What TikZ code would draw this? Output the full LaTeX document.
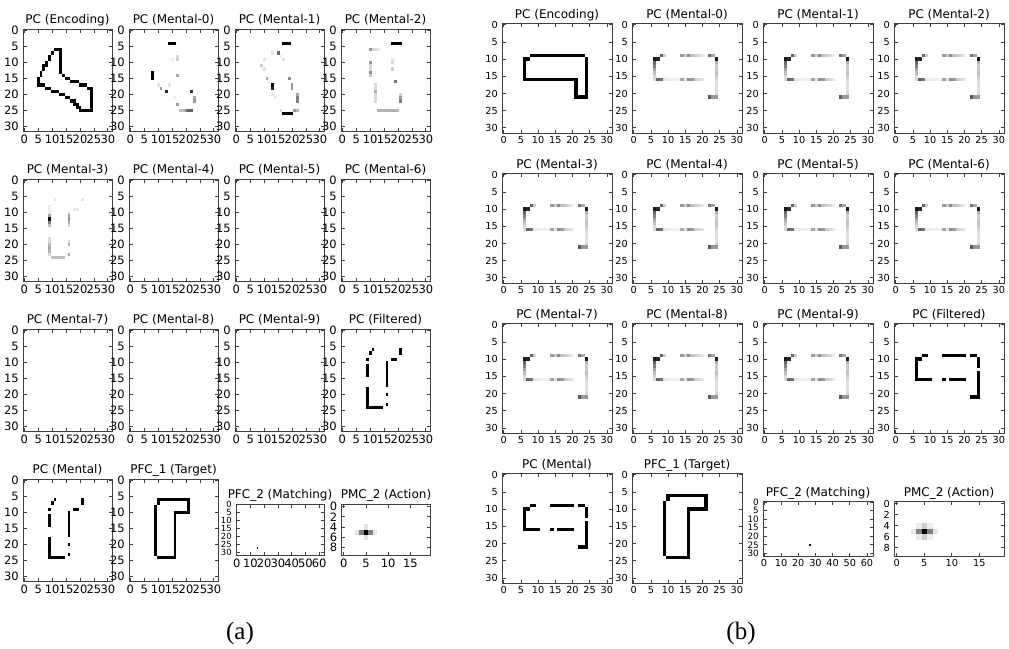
\documentclass[tikz,border=0pt]{standalone}
\usepackage{fontspec}
\setmainfont{DejaVu Sans}
\newfontfamily\capfont{Liberation Serif}

% ---- axes helpers (all lengths in px-like points, y grows downward) ----
\newcommand\setaxes[7]{\def\axN{#1}\def\axL{#2}\def\axT{#3}\def\axW{#4}\def\axH{#5}\def\axNX{#6}\def\axNY{#7}}
\newcommand\axtitle[1]{\node[axtitlestyle] (\axN-title) at ({\axL+\axW/2},{\axT-\titlesep}) {#1};}
\newcommand\drawaxes[8]{\setaxes{#1}{#2}{#3}{#4}{#5}{#6}{#7}\axtitle{#8}}
\newcommand\axframe[2]{%
  \draw[framestyle] (\axL,\axT) rectangle ({\axL+\axW},{\axT+\axH});
  \foreach \tk in {#1}{%
    \pgfmathsetmacro\tkpos{\axL+(\tk+0.5)*\axW/\axNX}%
    \draw[tickstyle] (\tkpos,\axT) -- (\tkpos,{\axT+3.5});
    \draw[tickstyle] (\tkpos,{\axT+\axH}) -- (\tkpos,{\axT+\axH-3.5});
    \node[xlab] (\axN-x\tk) at (\tkpos,{\axT+\axH+3.5}) {\tk};
  }%
  \foreach \tk in {#2}{%
    \pgfmathsetmacro\tkpos{\axT+(\tk+0.5)*\axH/\axNY}%
    \draw[tickstyle] (\axL,\tkpos) -- ({\axL+3.5},\tkpos);
    \draw[tickstyle] ({\axL+\axW},\tkpos) -- ({\axL+\axW-3.5},\tkpos);
    \node[ylab] (\axN-y\tk) at ({\axL-4},\tkpos) {\tk};
  }%
}
\newcommand\cellsopen{\pgfmathsetmacro\cw{\axW/\axNX}\pgfmathsetmacro\ch{\axH/\axNY}%
  \begin{scope}[shift={(\axL,\axT)},x=\cw pt,y=-\ch pt]}
\newcommand\cellsclose{\end{scope}}
% square 32x32 image axes
\newcommand\sq[5]{\drawaxes{#1}{#2}{#3}{\PW}{\PH}{32}{32}{#4}%
  \cellsopen #5\cellsclose
  \axframe{0,5,...,30}{0,5,...,30}}

% ---- image cells: column, row in data units ----
\newcommand\cP[3]{\fill[black!#3] (#1,#2) rectangle ++(1,1);}
\newcommand\cH[4]{\fill[black!#4] (#2,#1) rectangle ({#3+1},{#1+1});}
\newcommand\cV[4]{\fill[black!#4] (#1,#2) rectangle ({#1+1},{#3+1});}
\newcommand\cL[1]{\foreach \qx/\qy/\qs in {#1}{\cP{\qx}{\qy}{\qs}}}

% rectangular outline with a notch
\newcommand\encB{\cH{9}{8}{23}{100}\cH{10}{6}{7}{100}\cV{6}{10}{16}{100}\cH{16}{6}{21}{100}%
  \cV{21}{16}{21}{100}\cH{21}{21}{24}{100}\cV{24}{10}{21}{100}}
% target shape
\newcommand\targetLL{\cH{6}{10}{21}{100}\cP{10}{7}{100}\cV{9}{8}{23}{100}\cH{24}{10}{16}{100}%
  \cV{16}{10}{24}{100}\cH{10}{16}{21}{100}\cV{21}{6}{10}{100}}
% thresholded dashed outline
\newcommand\dashB{\cH{9}{8}{9}{100}\cH{9}{14}{20}{100}\cH{9}{22}{23}{100}\cH{10}{6}{7}{100}%
  \cV{6}{10}{16}{100}\cH{16}{6}{10}{100}\cP{14}{16}{100}\cH{16}{16}{20}{100}%
  \cV{24}{10}{12}{100}\cV{24}{14}{21}{100}\cH{21}{22}{23}{100}}
% grey recall
\newcommand\mentalB{\cL{8/9/60,9/9/20,14/9/40,15/9/20,16/9/45,17/9/25,18/9/20,19/9/15,20/9/8,%
  22/9/55,23/9/35,6/10/90,7/10/85,24/10/90,6/11/60,6/12/50,6/13/35,6/14/25,6/15/15,%
  6/16/15,7/16/60,8/16/55,9/16/10,10/16/8,11/16/6,12/16/6,13/16/6,14/16/35,15/16/10,%
  16/16/45,17/16/40,18/16/20,19/16/15,20/16/10,24/11/30,24/12/20,24/13/20,24/14/25,%
  24/15/20,24/16/15,24/17/12,24/18/12,24/19/12,24/20/15,22/21/65,23/21/40,24/21/40}}

% boot-like outline
\newcommand\encA{\cH{6}{11}{13}{100}\cV{13}{7}{13}{100}%
  \cL{10/7/100,9/8/100,9/9/100,8/10/100,8/11/100,7/11/100,7/12/100,6/13/100,6/14/100,%
  5/15/100,5/16/100,5/17/100,6/17/100,7/17/100,8/18/100,9/18/100,10/19/100,11/19/100,%
  12/19/100,13/20/100,14/20/100,15/21/100,16/21/100,17/22/100,18/22/100,18/23/100,%
  19/23/100,19/24/100,20/24/100,14/14/100,15/15/100,16/15/100,17/16/100,18/16/100,%
  19/16/100,20/17/100,21/17/100,22/17/100,23/18/100}%
  \cH{25}{20}{24}{100}\cV{24}{18}{25}{100}}
\newcommand\mentalAzero{\cH{4}{14}{16}{100}\cV{8}{13}{15}{100}%
  \cL{17/8/15,17/9/20,15/9/8,17/14/35,10/17/12,11/18/40,13/19/85,14/17/10,22/19/80,%
  23/21/35,23/22/40,17/23/40,18/25/25,19/25/25,20/25/45,21/25/60,22/25/60,16/21/8}}
\newcommand\mentalAone{\cH{4}{17}{19}{100}\cH{26}{17}{20}{100}%
  \cL{15/7/60,13/7/10,10/9/12,9/11/20,10/12/12,11/15/35,13/17/100,13/18/85,13/20/10,%
  14/21/8,17/9/15,16/8/8,19/15/45,20/17/40,20/18/40,22/20/35,22/21/50,22/22/50,%
  16/25/15,21/25/40,22/25/30}}
\newcommand\mentalAtwo{\cH{4}{18}{21}{100}%
  \cL{10/6/40,11/6/15,12/6/15,13/6/10,10/10/40,10/11/15,10/12/15,10/13/45,10/14/20,%
  12/17/15,12/18/15,12/19/30,12/20/15,12/21/15,12/22/15,13/25/30,14/25/30,15/25/30,%
  16/25/30,17/25/30,18/25/30,19/25/30,20/25/25,18/9/10,18/10/15,18/12/20,19/16/55,%
  21/20/20,21/21/40,21/22/50}}
\newcommand\mentalAthree{\cL{11/6/10,21/6/10,18/9/8,19/9/10,9/8/8,9/9/8,9/10/8,9/11/35,%
  9/12/95,9/13/50,9/14/25,9/18/15,9/19/15,9/20/25,9/21/35,9/22/30,9/23/15,10/24/25,%
  11/24/25,12/24/25,13/24/25,14/24/25,16/10/10,16/11/35,16/12/45,16/13/30,16/14/20,%
  16/19/15,16/20/30,16/23/35}}
\newcommand\dashA{\cP{11}{6}{100}\cP{10}{7}{100}\cP{9}{9}{100}\cV{9}{11}{14}{100}%
  \cV{9}{18}{24}{100}\cH{24}{10}{14}{100}\cV{16}{10}{17}{100}\cP{16}{20}{100}%
  \cP{16}{23}{100}\cH{9}{18}{19}{100}\cV{21}{6}{7}{100}}

\begin{document}
\begin{tikzpicture}[x=1pt,y=-1pt,
  framestyle/.style={draw=black!75,line width=0.9pt},
  tickstyle/.style={draw=black!75,line width=0.7pt},
  axtitlestyle/.style={anchor=base,inner sep=0pt,font=\fontsize{12}{14}\selectfont},
  xlab/.style={anchor=north,inner sep=0pt,font=\ticksize},
  ylab/.style={anchor=east,inner sep=0pt,font=\yticksize},
  panellabel/.style={inner sep=0pt,font=\capfont\fontsize{25}{30}\selectfont}]
\fill[white] (0,0) rectangle (1009,648);
\useasboundingbox (0,0) rectangle (1009,648);

% ================= left set =================
\def\ticksize{\fontsize{11.5}{13}\selectfont}\def\yticksize{\ticksize}
\def\titlesep{5.2}\def\PW{89}\def\PH{102.5}
\sq{a-enc}{23}{29}{PC (Encoding)}{\encA}
\sq{a-m0}{129}{29}{PC (Mental-0)}{\mentalAzero}
\sq{a-m1}{235}{29}{PC (Mental-1)}{\mentalAone}
\sq{a-m2}{341}{29}{PC (Mental-2)}{\mentalAtwo}
\sq{a-m3}{23}{179}{PC (Mental-3)}{\mentalAthree}
\sq{a-m4}{129}{179}{PC (Mental-4)}{}
\sq{a-m5}{235}{179}{PC (Mental-5)}{}
\sq{a-m6}{341}{179}{PC (Mental-6)}{}
\sq{a-m7}{23}{329}{PC (Mental-7)}{}
\sq{a-m8}{129}{329}{PC (Mental-8)}{}
\sq{a-m9}{235}{329}{PC (Mental-9)}{}
\sq{a-flt}{341}{329}{PC (Filtered)}{\dashA}
\sq{a-men}{23}{479}{PC (Mental)}{\dashA}
\sq{a-tgt}{129}{479}{PFC\_1 (Target)}{\targetLL}
\drawaxes{a-pfc}{236}{504}{88}{51}{64}{32}{PFC\_2 (Matching)}
\cellsopen \cP{15}{27}{90}\cellsclose
\def\yticksize{\fontsize{8.5}{9}\selectfont}
\axframe{0,10,...,60}{0,5,...,30}
\def\yticksize{\ticksize}
\drawaxes{a-pmc}{341.5}{504}{89}{51}{20}{10}{PMC\_2 (Action)}
\cellsopen \cL{5/5/100,4/5/50,6/5/50,3/5/10,7/5/10,5/4/12,5/6/12}\cellsclose
\axframe{0,5,10,15}{0,2,4,6,8}

% ================= right set =================
\def\ticksize{\fontsize{9.7}{11}\selectfont}\def\yticksize{\ticksize}
\def\titlesep{4.6}\def\PW{110}\def\PH{110}
\sq{b-enc}{502}{23}{PC (Encoding)}{\encB}
\sq{b-m0}{632}{23}{PC (Mental-0)}{\mentalB}
\sq{b-m1}{763}{23}{PC (Mental-1)}{\mentalB}
\sq{b-m2}{894}{23}{PC (Mental-2)}{\mentalB}
\sq{b-m3}{502}{173}{PC (Mental-3)}{\mentalB}
\sq{b-m4}{632}{173}{PC (Mental-4)}{\mentalB}
\sq{b-m5}{763}{173}{PC (Mental-5)}{\mentalB}
\sq{b-m6}{894}{173}{PC (Mental-6)}{\mentalB}
\sq{b-m7}{502}{323}{PC (Mental-7)}{\mentalB}
\sq{b-m8}{632}{323}{PC (Mental-8)}{\mentalB}
\sq{b-m9}{763}{323}{PC (Mental-9)}{\mentalB}
\sq{b-flt}{894}{323}{PC (Filtered)}{\dashB}
\sq{b-men}{502}{473}{PC (Mental)}{\dashB}
\sq{b-tgt}{632}{473}{PFC\_1 (Target)}{\targetLL}
\drawaxes{b-pfc}{763}{501}{110}{55}{64}{32}{PFC\_2 (Matching)}
\cellsopen \cP{27}{25}{100}\cellsclose
\def\yticksize{\fontsize{8.8}{10}\selectfont}
\axframe{0,10,...,60}{0,5,...,30}
\def\yticksize{\ticksize}
\drawaxes{b-pmc}{894}{501}{110}{55}{20}{10}{PMC\_2 (Action)}
\cellsopen \cL{5/5/100,4/5/50,6/5/50,5/4/20,5/6/20,3/5/10,7/5/10,4/4/8,6/4/8,4/6/8,6/6/8}\cellsclose
\axframe{0,5,10,15}{0,2,4,6,8}

% panel captions
\node[panellabel] (lab-a) at (240,633) {(a)};
\node[panellabel] (lab-b) at (741,633) {(b)};
\end{tikzpicture}
\end{document}
